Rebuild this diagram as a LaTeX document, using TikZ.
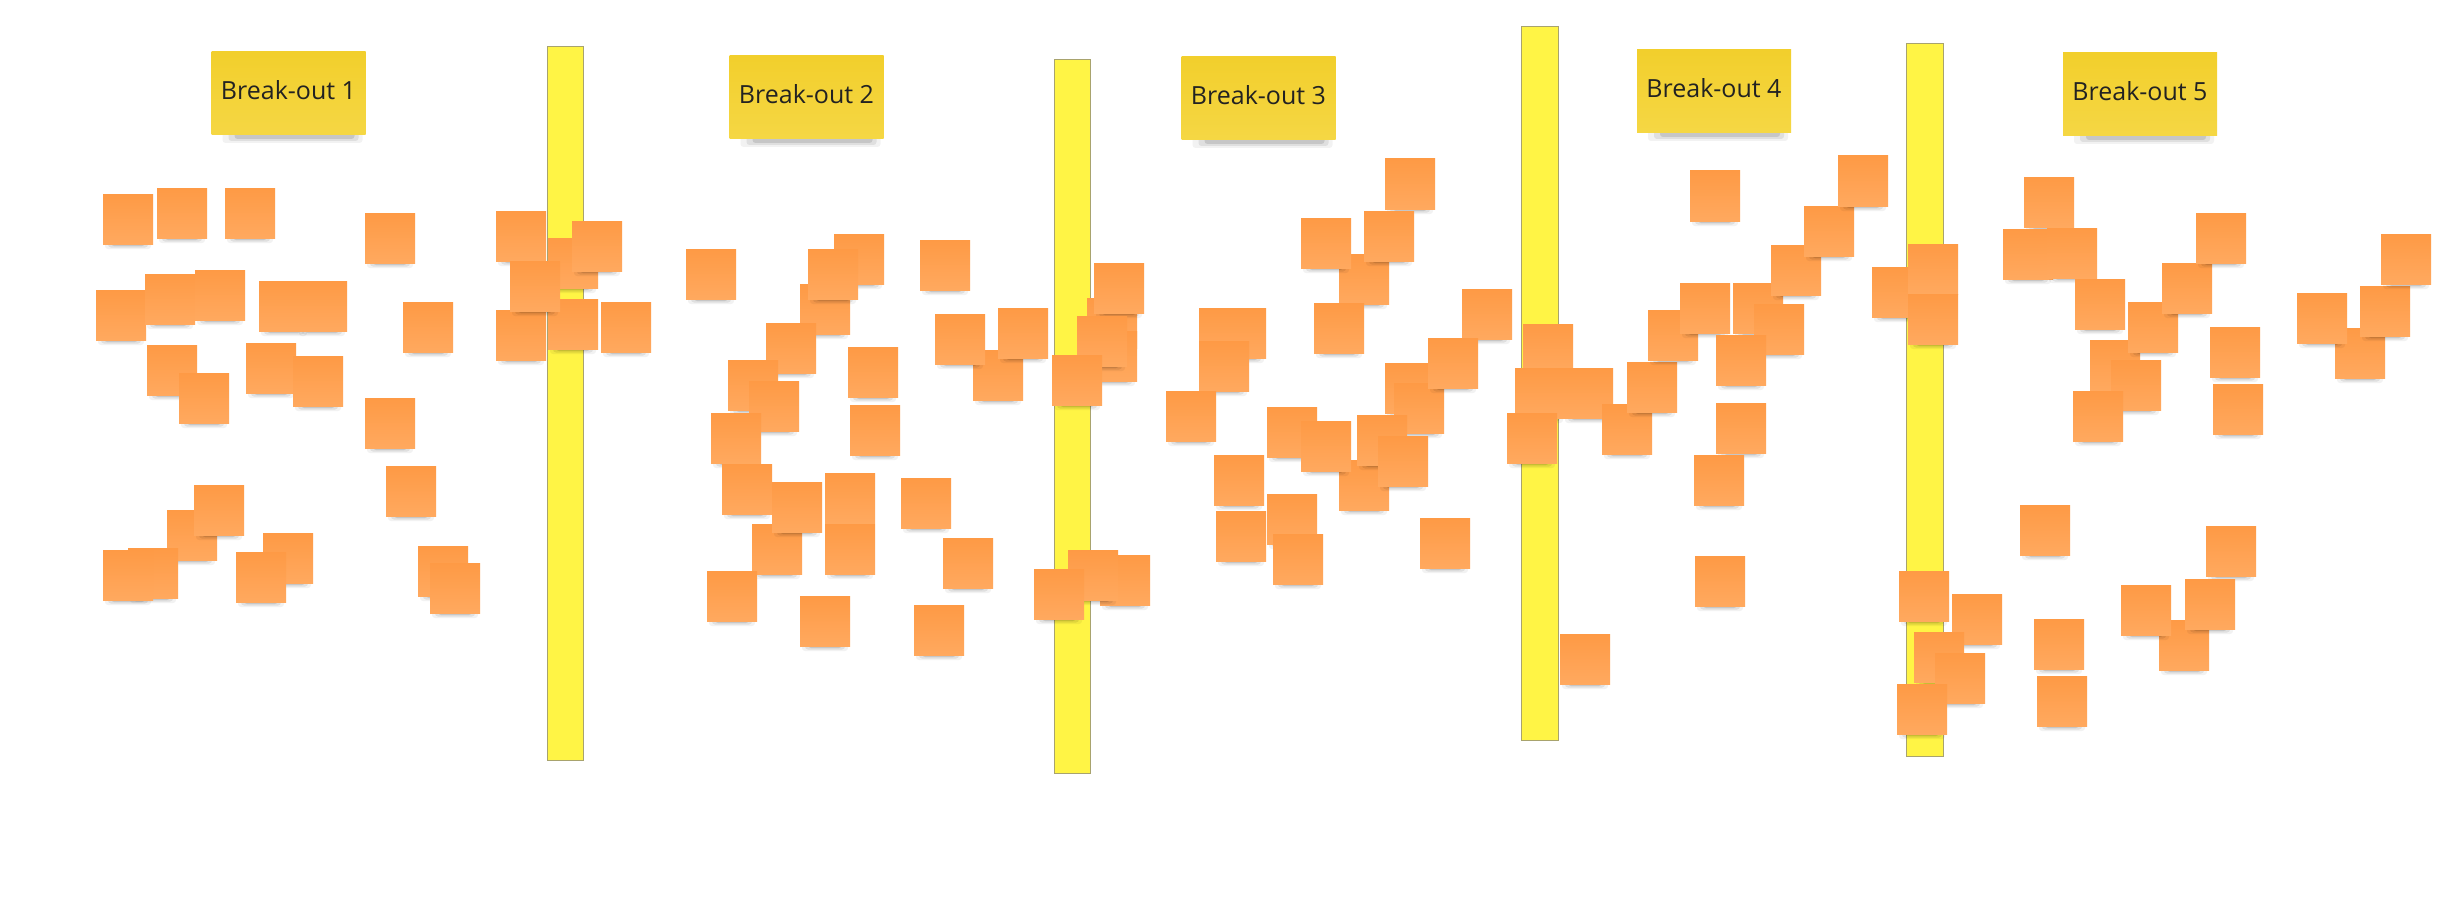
\documentclass[tikz,border=0pt]{standalone}
\usepackage{fontspec}
\setmainfont{Open Sans}

% palette
\definecolor{stickytop}{HTML}{FE9A45}
\definecolor{stickybot}{HTML}{FFA95F}
\definecolor{headtop}{HTML}{F2CF2C}
\definecolor{headbot}{HTML}{F5D744}
\definecolor{baryellow}{HTML}{FFF445}
\definecolor{baredge}{HTML}{A8A36E}
\definecolor{ink}{HTML}{222222}

\tikzset{
  sticky/.style={rectangle, minimum width=50pt, minimum height=50pt,
    inner sep=0pt, outer sep=0pt, top color=stickytop, bottom color=stickybot},
  header/.style={rectangle, minimum width=154pt, minimum height=83pt,
    inner sep=0pt, outer sep=0pt, top color=headtop, bottom color=headbot,
    text=ink, font=\fontsize{25}{30}\selectfont, text height=18pt, text depth=6pt},
  divider/.style={rectangle, minimum width=36.5pt, minimum height=713.7pt,
    inner sep=0pt, outer sep=0pt, fill=baryellow, draw=baredge, line width=0.9pt},
  shadowlayer/.style={fill=black, opacity=#1, rounded corners=3pt},
}

\begin{document}
\begin{tikzpicture}[x=1pt, y=-1pt]
  % canvas
  \fill[white] (0,0) rectangle (2458,915);
  \useasboundingbox (0,0) rectangle (2458,915);

  % vertical dividers between the break-out areas
  \node[divider] (bar1) at (565.25,403.5) {};
  \node[divider] (bar2) at (1072.5,416.2) {};
  \node[divider] (bar3) at (1540,383.2) {};
  \node[divider] (bar4) at (1925,400) {};

  % group titles: centre x / top y / number
  \foreach \cx/\ty/\k in {288.5/52/1, 806.5/56/2, 1258.5/57/3, 1714/50/4, 2140/53/5}{
    \fill[shadowlayer=0.05] (\cx-66,\ty+70) rectangle (\cx+74,\ty+91);
    \fill[shadowlayer=0.08] (\cx-60,\ty+73) rectangle (\cx+70,\ty+89);
    \fill[shadowlayer=0.11] (\cx-54,\ty+76) rectangle (\cx+66,\ty+87);
    \node[header] (h\k) at (\cx,\ty+41.5) {Break-out \k};
  }

  % sticky notes, listed by top-left corner, back to front
  \foreach \x/\y [count=\i] in {
      103/194, 157/188, 225/188, 365/213,
      96/290, 145/274, 195/270, 259/281, 297/281, 403/302,
      147/345, 179/373, 246/343, 293/356, 365/398, 386/466,
      167/510, 194/485, 128/548, 103/550, 263/533, 236/552, 418/546, 430/563,
      496/211, 548/238, 572/221, 496/310, 548/299, 510/261, 601/302,
      686/249, 834/234, 800/284, 808/249, 920/240, 766/323, 728/360, 749/381,
      711/413, 848/347, 850/405, 973/350, 935/314, 998/308, 722/464, 752/524,
      772/482, 825/473, 825/524, 901/478, 943/538, 707/571, 800/596, 914/605,
      1087/298, 1087/331, 1094/263, 1077/316, 1052/355, 1100/555, 1068/550, 1034/569,
      1385/159, 1339/254, 1301/218, 1364/211, 1314/303, 1216/308, 1199/308, 1199/341,
      1166/391, 1462/289, 1385/363, 1394/383, 1428/338, 1339/460, 1267/407, 1301/421,
      1357/415, 1378/436, 1214/455, 1216/511, 1267/494, 1273/534, 1420/518,
      1523/324, 1515/368, 1563/368, 1507/413, 1602/404, 1627/362, 1648/310, 1680/283,
      1733/283, 1754/304, 1716/335, 1771/245, 1804/206, 1838/156, 1690/171, 1716/403,
      1694/455, 1695/556, 1560/634,
      1872/267, 1908/244, 1908/294, 1899/571, 1952/594, 1914/632, 1935/653, 1897/684,
      2024/177, 2003/229, 2047/228, 2075/279, 2090/340, 2128/302, 2111/360, 2073/391,
      2162/263, 2196/213, 2210/327, 2213/384, 2335/328, 2297/293, 2360/286, 2381/234,
      2020/505, 2206/526, 2159/620, 2121/585, 2185/579, 2034/619, 2037/676}{
    \fill[shadowlayer=0.05] (\x+2,\y+38) rectangle (\x+48,\y+55);
    \fill[shadowlayer=0.08] (\x+5,\y+40) rectangle (\x+45,\y+53.5);
    \fill[shadowlayer=0.11] (\x+8,\y+42) rectangle (\x+42,\y+52);
    \node[sticky] (s\i) at (\x+25,\y+25) {};
  }
\end{tikzpicture}
\end{document}
